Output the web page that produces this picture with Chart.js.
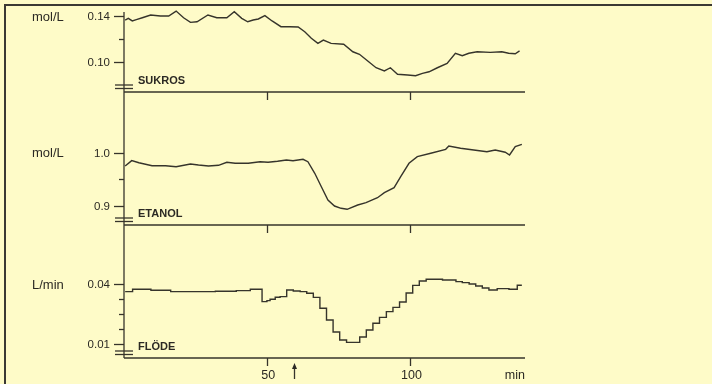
<!DOCTYPE html>
<html>
<head>
<meta charset="utf-8">
<script src="https://cdn.jsdelivr.net/npm/chart.js@4/dist/chart.umd.min.js"></script>
<style>
  html, body { margin: 0; padding: 0; background: #fefbc8; }
  #wrap { position: relative; width: 712px; height: 384px; background: #fefbc8; overflow: hidden; }
  #wrap canvas { position: absolute; left: 0; top: 0; }
  #frame { position: absolute; left: 4px; top: 4px; right: -10px; bottom: -10px;
           border-left: 2px solid #3b3934; border-top: 2px solid #3b3934; }
</style>
</head>
<body>
<div id="wrap">
  <div id="frame"></div>
  <canvas id="sukrosChart" width="712" height="384"></canvas>
  <canvas id="etanolChart" width="712" height="384"></canvas>
  <canvas id="flodeChart" width="712" height="384"></canvas>
</div>
<script>
// time axis (min)
const timeTicks = [50, 100];
const timeLabels = ['50', '100'];
const arrowTime = 59.5;

// SUKROS, mol/L
const sukrosTime = [0.4, 1.5, 2.9, 4.3, 6.4, 9.3, 12.7, 15.6, 18.2, 20.8, 23.2, 25.5, 29.3, 32.4, 35.9,
    38.5, 41.1, 43.2, 45.1, 46.9, 49.2, 51.7, 54.8, 57.9, 60.8, 63.1, 65.4, 67.7, 69.6, 72.3,
    76.7, 79.9, 82.2, 85.1, 88.0, 90.9, 93.0, 95.5, 99.0, 101.8, 104.2, 106.5, 109.4, 112.8,
    115.7, 118.1, 120.4, 123.3, 127.9, 131.9, 134.3, 136.6, 138.1];
const sukrosValue = [0.1365, 0.1380, 0.1357, 0.1368, 0.1385, 0.1409, 0.1400, 0.1400, 0.1443, 0.1385,
    0.1345, 0.1350, 0.1409, 0.1385, 0.1385, 0.1437, 0.1380, 0.1350, 0.1365, 0.1374, 0.1403,
    0.1357, 0.1307, 0.1307, 0.1304, 0.1263, 0.1206, 0.1162, 0.1191, 0.1162, 0.1154, 0.1089,
    0.1067, 0.1009, 0.0950, 0.0922, 0.0950, 0.0893, 0.0887, 0.0881, 0.0901, 0.0915, 0.0950,
    0.0988, 0.1076, 0.1055, 0.1076, 0.1089, 0.1084, 0.1089, 0.1076, 0.1072, 0.1096];
const sukrosTicks = [0.14, 0.10];
const sukrosTickLabels = ['0.14', '0.10'];
const sukrosMinor = [0.12];

// ETANOL, mol/L
const etanolTime = [0.4, 2.7, 5.2, 9.8, 14.5, 18.2, 23.2, 26.0, 29.5, 33.0, 35.9, 38.8, 43.4, 47.5,
    50.3, 53.6, 56.7, 59.0, 62.5, 64.2, 66.6, 68.9, 71.2, 73.5, 75.8, 77.9, 81.6, 84.5, 88.5,
    90.9, 94.3, 96.6, 99.5, 102.4, 107.1, 112.3, 113.4, 117.5, 122.1, 126.7, 129.6, 133.1,
    134.6, 136.6, 138.9];
const etanolValue = [0.975, 0.985, 0.981, 0.9755, 0.9755, 0.9736, 0.9787, 0.9768, 0.9749, 0.9762,
    0.9819, 0.980, 0.980, 0.983, 0.9819, 0.9838, 0.9862, 0.9849, 0.9875, 0.983, 0.9611, 0.9358,
    0.9108, 0.8994, 0.8951, 0.8932, 0.9013, 0.9057, 0.9151, 0.9245, 0.934, 0.9547, 0.980,
    0.9925, 0.9989, 1.0064, 1.0126, 1.0083, 1.0051, 1.0019, 1.0051, 1.0008, 0.9957, 1.0113, 1.0158];
const etanolTicks = [1.0, 0.9];
const etanolTickLabels = ['1.0', '0.9'];
const etanolMinor = [0.95];

// FLÖDE, L/min (stepped)
const flodeTime = [0.4, 3.0, 9.4, 16.3, 31.9, 39.2, 44.1, 48.2, 49.9, 51.0, 52.8, 54.5, 56.8, 59.1,
    61.5, 63.8, 66.1, 68.4, 70.7, 73.0, 75.3, 77.7, 82.3, 84.6, 86.9, 89.2, 91.6, 93.9, 96.2,
    98.5, 100.8, 103.1, 105.5, 111.2, 115.9, 118.1, 120.5, 122.8, 125.1, 127.4, 130.3, 134.4,
    137.3, 138.9];
const flodeValue = [0.0362, 0.0374, 0.0369, 0.0362, 0.0364, 0.0367, 0.0374, 0.0312, 0.0317, 0.0324,
    0.0334, 0.0337, 0.0370, 0.0365, 0.0362, 0.0354, 0.0333, 0.0279, 0.0220, 0.0160, 0.0120,
    0.0108, 0.0135, 0.0170, 0.0204, 0.0233, 0.0262, 0.0283, 0.0310, 0.0355, 0.0393, 0.0415,
    0.0424, 0.0420, 0.0412, 0.0407, 0.0400, 0.0390, 0.0380, 0.0370, 0.0377, 0.0374, 0.0394, 0.0394];
const flodeTicks = [0.04, 0.01];
const flodeTickLabels = ['0.04', '0.01'];
const flodeMinor = [0.0325, 0.025, 0.0175];

const INK = '#36342b';
const TEXT = '#2b2923';
const FONT = '"Liberation Sans", Arial, sans-serif';

// axis decorations drawn by hand: broken y axis, short ticks, labels
const panelDecor = {
    id: 'panelDecor',
    afterDraw(chart, args, o) {
        const { ctx, chartArea: area } = chart;
        const xs = chart.scales.x, ys = chart.scales.y;
        const left = area.left, bottom = area.bottom;
        ctx.save();
        ctx.strokeStyle = INK;
        ctx.fillStyle = TEXT;
        ctx.lineWidth = 1.3;

        // y axis line
        const yTop = o.axisTop != null ? o.axisTop : area.top;
        ctx.beginPath();
        ctx.moveTo(left, yTop);
        ctx.lineTo(left, bottom);
        ctx.stroke();

        // baseline
        ctx.beginPath();
        ctx.moveTo(left, bottom);
        ctx.lineTo(area.right, bottom);
        ctx.stroke();

        // major ticks + labels
        ctx.font = '11.5px ' + FONT;
        ctx.textAlign = 'right';
        ctx.textBaseline = 'middle';
        o.ticks.forEach((v, i) => {
            const y = Math.round(ys.getPixelForValue(v)) + 0.5;
            ctx.beginPath();
            ctx.moveTo(left - 10, y);
            ctx.lineTo(left, y);
            ctx.stroke();
            ctx.fillText(o.labels[i], left - 14, y);
        });
        o.minor.forEach(v => {
            const y = Math.round(ys.getPixelForValue(v)) + 0.5;
            ctx.beginPath();
            ctx.moveTo(left - 5, y);
            ctx.lineTo(left, y);
            ctx.stroke();
        });

        // unit
        ctx.font = '13px ' + FONT;
        ctx.textAlign = 'left';
        ctx.fillText(o.unit, 32, ys.getPixelForValue(o.ticks[0]) + 1);

        // series name
        ctx.font = 'bold 11px ' + FONT;
        ctx.textBaseline = 'alphabetic';
        ctx.fillText(o.name, left + 14, bottom - 8);

        // axis break marks
        [bottom - 7, bottom - 3.5].forEach(y => {
            ctx.beginPath();
            ctx.moveTo(left - 9, y);
            ctx.lineTo(left + 9, y);
            ctx.stroke();
        });

        // time ticks under the baseline
        timeTicks.forEach(t => {
            const x = Math.round(xs.getPixelForValue(t)) + 0.5;
            ctx.beginPath();
            ctx.moveTo(x, bottom);
            ctx.lineTo(x, bottom + 8);
            ctx.stroke();
        });

        if (o.timeLabels) {
            ctx.font = '12.5px ' + FONT;
            ctx.textAlign = 'center';
            ctx.textBaseline = 'middle';
            timeTicks.forEach((t, i) => {
                ctx.fillText(timeLabels[i], xs.getPixelForValue(t) + 1, bottom + 18);
            });
            ctx.textAlign = 'right';
            ctx.fillText('min', area.right, bottom + 18);

            // arrow marking the disturbance
            const ax = Math.round(xs.getPixelForValue(arrowTime)) + 0.5;
            ctx.beginPath();
            ctx.moveTo(ax, bottom + 9);
            ctx.lineTo(ax, bottom + 21);
            ctx.stroke();
            ctx.beginPath();
            ctx.moveTo(ax - 2.5, bottom + 11);
            ctx.lineTo(ax, bottom + 5);
            ctx.lineTo(ax + 2.5, bottom + 11);
            ctx.closePath();
            ctx.fill();
        }
        ctx.restore();
    }
};

function makePanel(id, times, values, cfg) {
    const ctx = document.getElementById(id).getContext('2d');
    return new Chart(ctx, {
        type: 'line',
        data: {
            datasets: [{
                data: times.map((t, i) => ({ x: t, y: values[i] })),
                borderColor: INK,
                borderWidth: 1.4,
                pointRadius: 0,
                tension: 0,
                stepped: cfg.stepped || false,
                fill: false,
            }],
        },
        options: {
            responsive: false,
            animation: false,
            devicePixelRatio: 1,
            layout: { padding: { left: 124, right: 187, top: cfg.top, bottom: 384 - cfg.bottom } },
            plugins: {
                legend: { display: false },
                tooltip: { enabled: false },
                panelDecor: cfg.decor,
            },
            scales: {
                x: { type: 'linear', min: 0, max: 140, display: false },
                y: { min: cfg.min, max: cfg.max, display: false },
            },
        },
        plugins: [panelDecor],
    });
}

makePanel('sukrosChart', sukrosTime, sukrosValue, {
    top: 5, bottom: 92, min: 0.07391, max: 0.14957,
    decor: { axisTop: 12, ticks: sukrosTicks, labels: sukrosTickLabels, minor: sukrosMinor, unit: 'mol/L', name: 'SUKROS' },
});

makePanel('etanolChart', etanolTime, etanolValue, {
    top: 92, bottom: 225, min: 0.8636, max: 1.1145,
    decor: { ticks: etanolTicks, labels: etanolTickLabels, minor: etanolMinor, unit: 'mol/L', name: 'ETANOL' },
});

makePanel('flodeChart', flodeTime, flodeValue, {
    top: 225, bottom: 358, min: 0.003, max: 0.0695, stepped: true,
    decor: { ticks: flodeTicks, labels: flodeTickLabels, minor: flodeMinor, unit: 'L/min', name: 'FLÖDE', timeLabels: true },
});
</script>
</body>
</html>
